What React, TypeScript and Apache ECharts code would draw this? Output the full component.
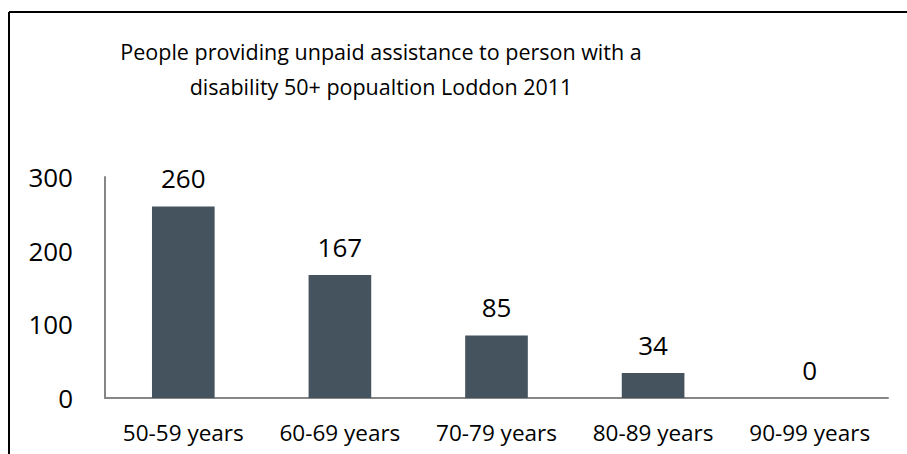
import React, { useEffect, useRef } from "react";
import * as echarts from "echarts";

const categories = ["50-59 years", "60-69 years", "70-79 years", "80-89 years", "90-99 years"];
const values = [260, 167, 85, 34, 0];
const yTicks = [0, 100, 200, 300];
const titleText = "People providing unpaid assistance to person with a\ndisability 50+ popualtion Loddon 2011";

const FONT = "'Open Sans', sans-serif";

export default function App() {
  const ref = useRef<HTMLDivElement>(null);
  useEffect(() => {
    document.body.style.margin = "0";
    const chart = echarts.init(ref.current!, null, { renderer: "svg" });
    chart.setOption({
      animation: false,
      backgroundColor: "#ffffff",
      title: {
        text: titleText,
        left: 376,
        top: 29,
        textAlign: "center",
        textStyle: {
          fontFamily: FONT,
          fontSize: 21.5,
          fontWeight: "normal",
          color: "#000000",
          lineHeight: 35,
        },
      },
      graphic: [
        { type: "line", shape: { x1: 9, y1: 12, x2: 907, y2: 12 }, style: { stroke: "#000", lineWidth: 2 } },
        { type: "line", shape: { x1: 9, y1: 12, x2: 9, y2: 454 }, style: { stroke: "#000", lineWidth: 2 } },
      ],
      grid: { left: 105, right: 19, top: 177, bottom: 56 },
      xAxis: {
        type: "category",
        data: categories,
        axisLine: { show: true, lineStyle: { color: "#868686", width: 2 } },
        axisTick: { show: false },
        axisLabel: { fontFamily: FONT, fontSize: 22.5, color: "#000", margin: 23, interval: 0 },
      },
      yAxis: {
        type: "value",
        min: yTicks[0],
        max: yTicks[yTicks.length - 1],
        interval: 100,
        axisLine: { show: true, lineStyle: { color: "#868686", width: 2 } },
        axisTick: { show: false },
        splitLine: { show: false },
        axisLabel: { fontFamily: FONT, fontSize: 26, color: "#000", margin: 32 },
      },
      series: [
        {
          type: "bar",
          data: values,
          barWidth: "40%",
          itemStyle: { color: "#45535e" },
          label: {
            show: true,
            position: "top",
            distance: 15,
            fontFamily: FONT,
            fontSize: 26,
            color: "#000",
          },
        },
      ],
    });
    return () => chart.dispose();
  }, []);
  return <div ref={ref} style={{ width: 907, height: 454 }} />;
}
